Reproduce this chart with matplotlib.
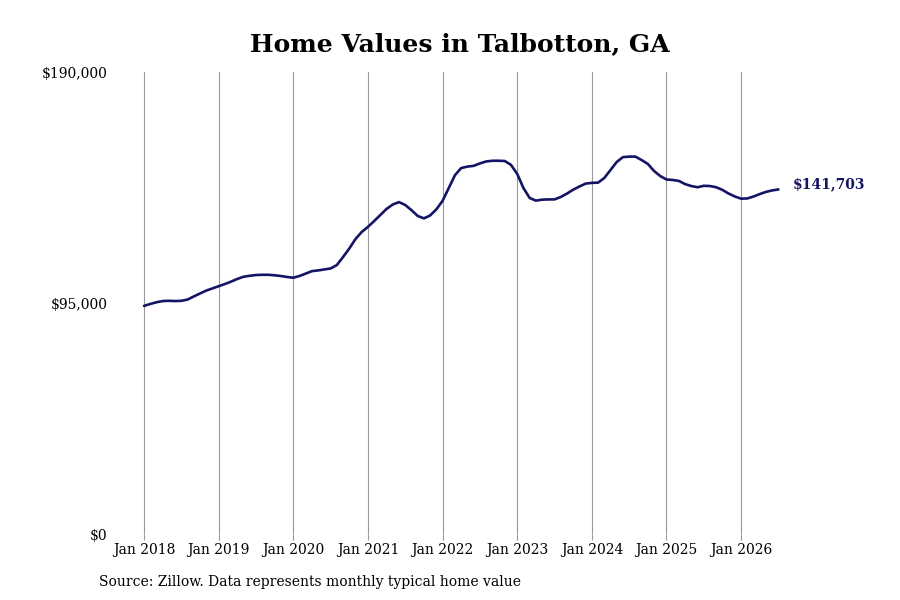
import numpy as np
import matplotlib.pyplot as plt

plt.rcParams['font.family'] = ['DejaVu Serif']

# Monatswerte Jan 2018 .. Jul 2026
values = [
    93800, 94600, 95300, 95800, 95900, 95800, 95900, 96400, 97700, 98900, 100100, 101000,
    101900, 102800, 103800, 104900, 105800, 106200, 106500, 106600, 106600, 106400, 106100, 105700,
    105400, 106100, 107100, 108100, 108400, 108800, 109200, 110600, 113900, 117400, 121300, 124200,
    126300, 128700, 131200, 133700, 135500, 136500, 135300, 133200, 130800, 129800, 131000, 133500,
    137000, 142300, 147600, 150500, 151100, 151400, 152400, 153200, 153500, 153500, 153400, 151800,
    148100, 142300, 138200, 137100, 137500, 137600, 137600, 138600, 140000, 141600, 142900, 144100,
    144400, 144500, 146400, 149700, 153000, 155000, 155200, 155200, 153800, 152200, 149300, 147200,
    145800, 145600, 145200, 143900, 143100, 142600, 143200, 143100, 142600, 141500, 140000, 138800,
    137900, 138000, 138800, 139800, 140700, 141300, 141703,
]
years = list(range(2018, 2027))
tick_labels = ['Jan %d' % y for y in years]
y_ticks = [0, 95000, 190000]
y_tick_labels = ['$0', '$95,000', '$190,000']
last_label = '$141,703'

navy = '#141466'
x = np.arange(len(values))

fig = plt.figure(figsize=(9, 6), dpi=100)
ax = fig.add_axes([112/900, 1 - 534/600, (808-112)/900, (534-72)/600])

ax.plot(x, values, color=navy, linewidth=1.9, solid_capstyle='round')
ax.annotate(last_label, (x[-1], values[-1]), xytext=(10, 3.5), textcoords='offset points',
            va='center', ha='left', fontsize=10, fontweight='bold', color=navy)

ax.set_ylim(0, 190000)
ax.set_xlim(-(144-112)/6.22, (808-144)/6.22)
ax.set_yticks(y_ticks)
ax.set_yticklabels(y_tick_labels, fontsize=10)
ax.set_xticks([12*i for i in range(len(years))])
ax.set_xticklabels(tick_labels, fontsize=10)
ax.tick_params(axis='y', length=0, pad=3)
ax.tick_params(axis='x', length=4.5, color='#999999', width=0.8, pad=2)
ax.grid(True, axis='x', color='#999999', linewidth=0.8)
for s in ax.spines.values():
    s.set_visible(False)

fig.text(460/900, 1 - 44/600, 'Home Values in Talbotton, GA', ha='center', va='center',
         fontsize=18, fontweight='bold')
fig.text(99/900, 1 - 582/600, 'Source: Zillow. Data represents monthly typical home value',
         ha='left', va='center', fontsize=10)

fig.savefig('out.png', dpi=100)
